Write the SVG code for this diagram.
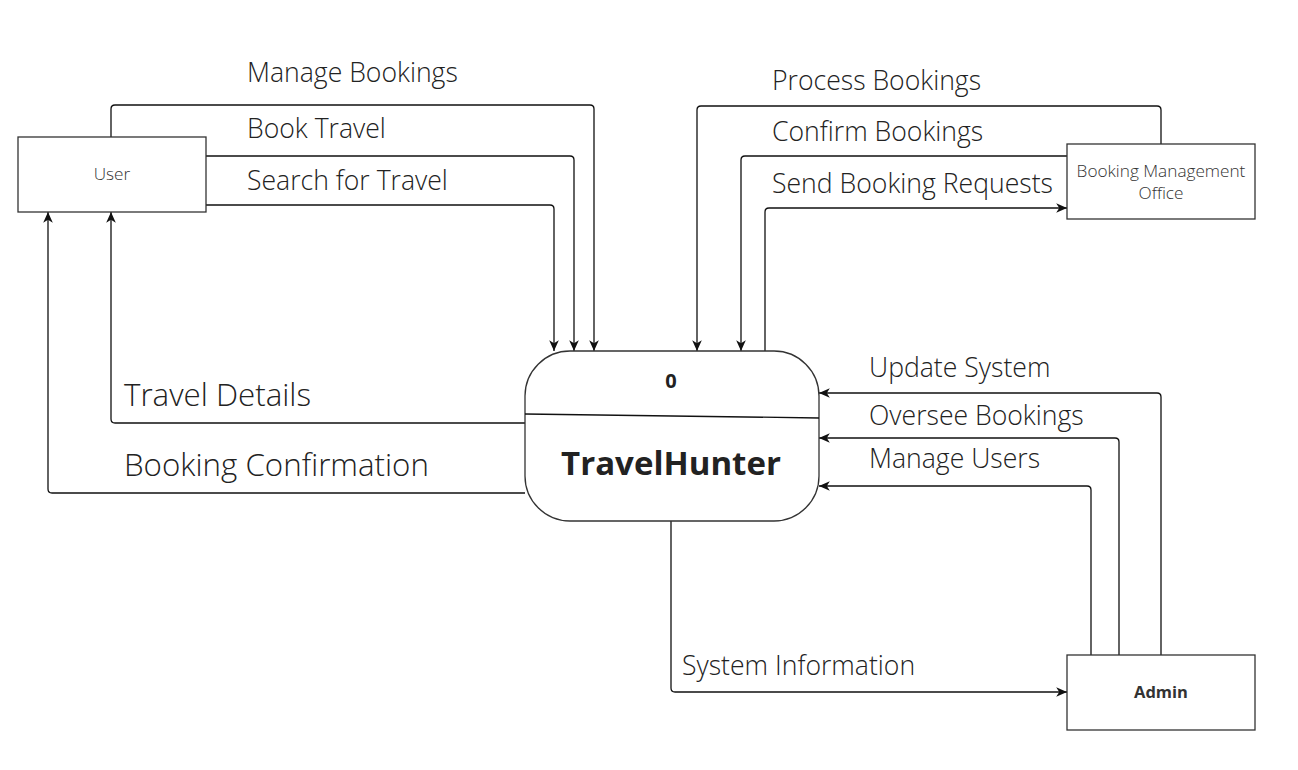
<svg xmlns="http://www.w3.org/2000/svg" width="1298" height="770" viewBox="0 0 1298 770">
<defs>
<style>
.box{fill:#fff;stroke:#333;stroke-width:1.3}
.ln{fill:none;stroke:#111;stroke-width:1.3}
.lbl{font-family:"Open Sans","Liberation Sans",sans-serif;font-size:26.6px;font-weight:350;fill:#222}
.lblL{font-family:"Open Sans","Liberation Sans",sans-serif;font-size:31.3px;font-weight:350;fill:#222}
.ent{font-family:"Open Sans","Liberation Sans",sans-serif;font-size:17.2px;font-weight:350;fill:#333;text-anchor:middle}
</style>
<marker id="ar" markerUnits="userSpaceOnUse" markerWidth="12" markerHeight="12" viewBox="0 0 10 10" refX="9" refY="5" orient="auto">
<path d="M0,1 L9,5 L0,9 L2.5,5 z" fill="#111"/>
</marker>
</defs>
<rect width="1298" height="770" fill="#fff"/>
<g id="connectors">
<path class="ln" marker-end="url(#ar)" d="M111,137 V109 Q111,105 115,105 H590 Q594,105 594,109 V351"/>
<path class="ln" marker-end="url(#ar)" d="M206,156 H570 Q574,156 574,160 V351"/>
<path class="ln" marker-end="url(#ar)" d="M206,205 H550 Q554,205 554,209 V351"/>
<path class="ln" marker-end="url(#ar)" d="M525,423 H115 Q111,423 111,419 V212"/>
<path class="ln" marker-end="url(#ar)" d="M525,493 H52 Q48,493 48,489 V212"/>
<path class="ln" marker-end="url(#ar)" d="M1161,144 V110 Q1161,106 1157,106 H701 Q697,106 697,110 V351"/>
<path class="ln" marker-end="url(#ar)" d="M1067,156 H745 Q741,156 741,160 V351"/>
<path class="ln" marker-end="url(#ar)" d="M765,351 V212 Q765,208 769,208 H1067"/>
<path class="ln" marker-end="url(#ar)" d="M1161,655 V397 Q1161,393 1157,393 H819"/>
<path class="ln" marker-end="url(#ar)" d="M1119,655 V442 Q1119,438 1115,438 H819"/>
<path class="ln" marker-end="url(#ar)" d="M1091,655 V490 Q1091,486 1087,486 H819"/>
<path class="ln" marker-end="url(#ar)" d="M671,521 V688 Q671,692 675,692 H1067"/>
<text class="lbl" x="247" y="82">Manage Bookings</text>
<text class="lbl" x="247" y="138">Book Travel</text>
<text class="lbl" x="247" y="190">Search for Travel</text>
<text class="lblL" x="124" y="406">Travel Details</text>
<text class="lblL" x="124" y="476">Booking Confirmation</text>
<text class="lbl" x="772" y="90">Process Bookings</text>
<text class="lbl" x="772" y="141">Confirm Bookings</text>
<text class="lbl" x="772" y="193">Send Booking Requests</text>
<text class="lbl" x="869" y="377">Update System</text>
<text class="lbl" x="869" y="425">Oversee Bookings</text>
<text class="lbl" x="869" y="468">Manage Users</text>
<text class="lbl" x="682" y="675">System Information</text>
</g>
<g id="user">
<rect class="box" x="18" y="137" width="188" height="75"/>
<text class="ent" x="112" y="180">User</text>
</g>
<g id="bmo">
<rect class="box" x="1067" y="144" width="188" height="75"/>
<text class="ent" x="1161" y="177">Booking Management</text>
<text class="ent" x="1161" y="199">Office</text>
</g>
<g id="admin">
<rect class="box" x="1067" y="655" width="188" height="75"/>
<text class="ent" x="1161" y="698" style="font-weight:700;font-size:16.5px">Admin</text>
</g>
<g id="travelhunter">
<rect class="box" x="525" y="351" width="294" height="170" rx="45" ry="45"/>
<path class="ln" stroke="#333" d="M525,414 L819,418"/>
<text x="671" y="388" text-anchor="middle" font-family="Open Sans, Liberation Sans, sans-serif" font-size="20" font-weight="bold" fill="#222">0</text>
<text x="671" y="475" text-anchor="middle" font-family="Open Sans, Liberation Sans, sans-serif" font-size="33" font-weight="bold" fill="#222">TravelHunter</text>
</g>
</svg>
